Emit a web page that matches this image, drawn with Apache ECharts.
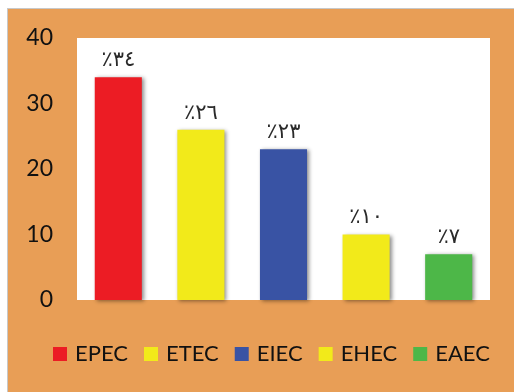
<!DOCTYPE html>
<html><head><meta charset="utf-8">
<script src="https://cdn.jsdelivr.net/npm/echarts@6/dist/echarts.min.js"></script>
<style>
html,body{margin:0;padding:0;background:#fff;width:514px;height:392px;overflow:hidden}
#bg{position:absolute;left:7px;top:8px;width:507px;height:384px;background:#E89E56;border-left:1px solid #c8c8c8;border-top:1px solid #c8c8c8;box-sizing:border-box}
#c{position:absolute;left:0;top:0;width:514px;height:392px}
</style></head><body>
<div id="bg"></div><div id="c"></div>
<script>
const categories = ['EPEC','ETEC','EIEC','EHEC','EAEC'];
const values = [34, 26, 23, 10, 7];
const colors = ['#EC1C24','#F2EA1A','#3953A4','#F2EA1A','#4DB748'];
const yTicks = [0, 10, 20, 30, 40];
const arabicDigits = ['٠','١','٢','٣','٤','٥','٦','٧','٨','٩'];
function toArabic(n){return String(n).split('').map(d=>arabicDigits[+d]).join('');}

const chart = echarts.init(document.getElementById('c'), null, {renderer:'canvas'});
const series = categories.map((name, i) => ({
  name: name,
  type: 'bar',
  stack: 'all',
  barWidth: '57%',
  data: categories.map((c, j) => j === i ? values[j] : '-'),
  itemStyle: {color: colors[i], shadowBlur: 4, shadowOffsetX: 2, shadowOffsetY: 1, shadowColor: 'rgba(0,0,0,0.45)'},
  label: {show: true, position: 'top', distance: 6, fontFamily: 'DejaVu Sans', fontSize: 21, color: '#2a2a2a',
    formatter: p => '٪' + toArabic(p.value)}
}));
chart.setOption({
  animation: false,
  backgroundColor: 'transparent',
  grid: {left: 77, right: 24, top: 38, bottom: 92, show: true, backgroundColor: '#fff', borderWidth: 0},
  xAxis: {type: 'category', data: categories, axisLine: {show: false}, axisTick: {show: false}, axisLabel: {show: false}},
  yAxis: {type: 'value', min: yTicks[0], max: yTicks[yTicks.length-1], interval: 10,
    splitLine: {show: false}, axisLine: {show: false}, axisTick: {show: false},
    axisLabel: {fontSize: 23, color: '#111', margin: 24, fontFamily: 'Lato, Open Sans, sans-serif'}},
  legend: {bottom: 22, left: 48, icon: 'rect', itemWidth: 14, itemHeight: 14, itemGap: 16,
    textStyle: {fontSize: 22, color: '#111', fontFamily: 'Lato, Open Sans, sans-serif', padding: [0,0,0,3]},
    data: categories},
  series: series
});
</script></body></html>
